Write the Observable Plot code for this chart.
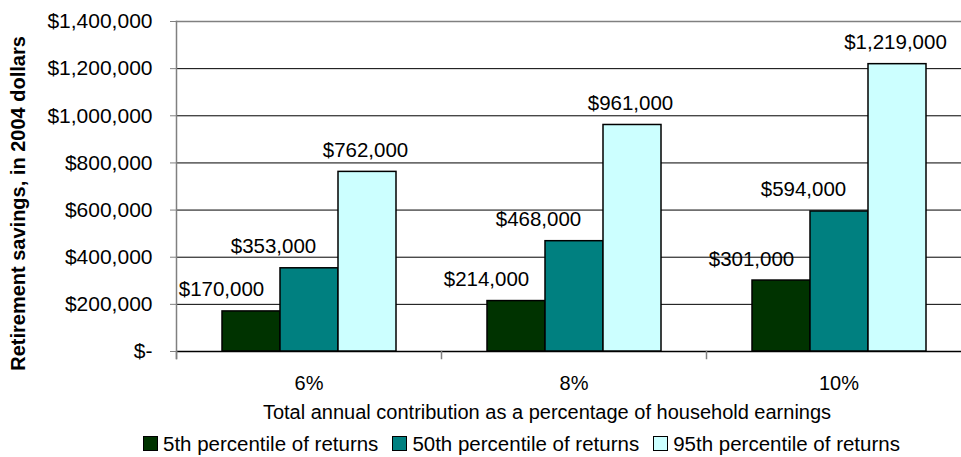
<!DOCTYPE html>
<html><head><meta charset="utf-8">
<script src="https://cdn.jsdelivr.net/npm/d3@7"></script>
<script src="https://cdn.jsdelivr.net/npm/@observablehq/plot@0.6"></script>
<style>
html,body{margin:0;padding:0;background:#fff;overflow:hidden;font-family:"Liberation Sans",Arial,sans-serif;}
#chart svg{overflow:hidden;display:block;}
#legend{display:flex;align-items:center;height:27px;padding-left:143px;font-size:20.5px;color:#000;white-space:nowrap;}
.item{display:flex;align-items:center;margin-right:14px;}
.sw{box-sizing:border-box;width:15px;height:15px;border:1.5px solid #000;margin-right:5px;}
</style></head><body><div id="chart"></div><div id="legend"></div>
<script>
const categories = ["6%", "8%", "10%"];
const seriesNames = ["5th percentile of returns", "50th percentile of returns", "95th percentile of returns"];
const p5 = [170000, 214000, 301000];
const p50 = [353000, 468000, 594000];
const p95 = [762000, 961000, 1219000];
const seriesColors = ["#003300", "#008080", "#CCFFFF"];
const yTicks = [0, 200000, 400000, 600000, 800000, 1000000, 1200000, 1400000];
const yMax = 1400000;
const xTitle = "Total annual contribution as a percentage of household earnings";
const yTitle = "Retirement savings, in 2004 dollars";

const values = [p5, p50, p95];
const data = categories.flatMap((cat, i) => seriesNames.map((s, j) => ({cat, series: s, value: values[j][i]})));

const W = 961, H = 430, mL = 176, mT = 21, mB = 79, mR = -10;
const frameH = H - mT - mB;
const money = d => d === 0 ? "$-" : "$" + d3.format(",")(d);
const labelDx = [-30, -36, -2];

const plot = Plot.plot({
  width: W, height: H, marginLeft: mL, marginTop: mT, marginBottom: mB, marginRight: mR,
  style: {fontFamily: "Liberation Sans, Arial, sans-serif", fontSize: "20px", color: "#000", background: "#fff", overflow: "hidden"},
  fx: {domain: categories, padding: 0, label: null, axis: null},
  x: {domain: seriesNames, paddingInner: 0, paddingOuter: 0.75, axis: null},
  y: {domain: [0, yMax], axis: null},
  color: {domain: seriesNames, range: seriesColors},
  marks: [
    Plot.gridY(yTicks.filter(t => t > 0 && t < yMax), {stroke: "#000", strokeOpacity: 1, strokeWidth: 1}),
    Plot.frame({anchor: "top", facet: "super", stroke: "#808080", strokeWidth: 1.5}),
    Plot.ruleY([0], {stroke: "#000", strokeWidth: 1.5}),
    Plot.frame({anchor: "left", stroke: "#808080", strokeWidth: 1.5, insetTop: frameH, insetBottom: -7}),
    Plot.frame({anchor: "left", facet: "super", stroke: "#808080", strokeWidth: 1.5, insetBottom: -7}),
    Plot.barY(data, {fx: "cat", x: "series", y: "value", fill: "series", stroke: "#000", strokeWidth: 1.5}),
    ...seriesNames.map((s, j) => Plot.text(data.filter(d => d.series === s), {
      fx: "cat", x: "series", y: "value", text: d => money(d.value),
      lineAnchor: "bottom", dy: -15, dx: labelDx[j], fontSize: 20.5, fill: "#000"
    })),
    Plot.axisY({ticks: yTicks, tickFormat: money, tickSize: 6, tickPadding: 18, fontSize: 21, label: null, stroke: "#808080", fill: "#000"}),
    Plot.axisFx({anchor: "bottom", tickSize: 0, tickPadding: 24, fontSize: 20, label: null, fill: "#000"}),
    Plot.text([xTitle], {facet: "super", frameAnchor: "bottom", text: d => d, lineAnchor: "bottom", dy: 67, dx: -27, fontSize: 20, fill: "#000"}),
    Plot.text([yTitle], {facet: "super", frameAnchor: "left", text: d => d, rotate: -90, dx: -158, dy: 17, fontWeight: "bold", fontSize: 20, textAnchor: "middle", lineAnchor: "middle", fill: "#000"})
  ]
});
document.getElementById("chart").appendChild(plot);

const legend = d3.select("#legend");
seriesNames.forEach((s, j) => {
  const it = legend.append("div").attr("class", "item");
  it.append("div").attr("class", "sw").style("background", seriesColors[j]);
  it.append("span").text(s);
});
</script>
</body></html>
